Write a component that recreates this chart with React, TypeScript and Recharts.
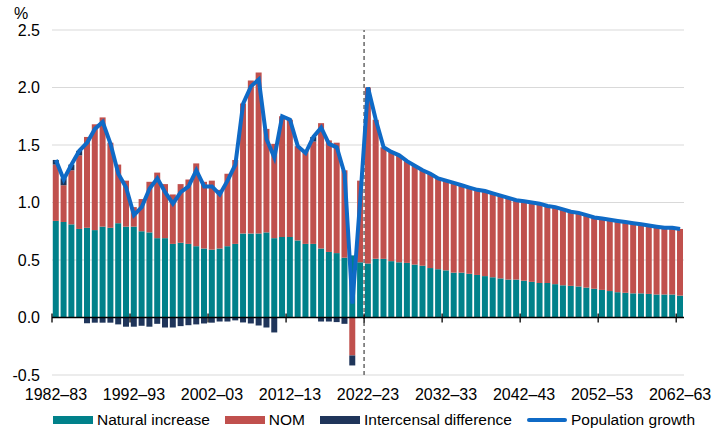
import {
  ComposedChart,
  Bar,
  Line,
  XAxis,
  YAxis,
  CartesianGrid,
  ReferenceLine,
} from "recharts";

const years = [
  "1982–83", "1983–84", "1984–85", "1985–86", "1986–87", "1987–88", "1988–89", "1989–90", "1990–91", "1991–92",
  "1992–93", "1993–94", "1994–95", "1995–96", "1996–97", "1997–98", "1998–99", "1999–00", "2000–01", "2001–02",
  "2002–03", "2003–04", "2004–05", "2005–06", "2006–07", "2007–08", "2008–09", "2009–10", "2010–11", "2011–12",
  "2012–13", "2013–14", "2014–15", "2015–16", "2016–17", "2017–18", "2018–19", "2019–20", "2020–21", "2021–22",
  "2022–23", "2023–24", "2024–25", "2025–26", "2026–27", "2027–28", "2028–29", "2029–30", "2030–31", "2031–32",
  "2032–33", "2033–34", "2034–35", "2035–36", "2036–37", "2037–38", "2038–39", "2039–40", "2040–41", "2041–42",
  "2042–43", "2043–44", "2044–45", "2045–46", "2046–47", "2047–48", "2048–49", "2049–50", "2050–51", "2051–52",
  "2052–53", "2053–54", "2054–55", "2055–56", "2056–57", "2057–58", "2058–59", "2059–60", "2060–61", "2061–62",
  "2062–63",
];

const tickYears = [
  "1982–83", "1992–93", "2002–03", "2012–13", "2022–23",
  "2032–33", "2042–43", "2052–53", "2062–63",
];

const yTicks = [-0.5, 0, 0.5, 1, 1.5, 2, 2.5];

// per cent of population
const naturalIncrease = [
  0.84, 0.83, 0.81, 0.77, 0.78, 0.76, 0.79, 0.78, 0.82, 0.79,
  0.79, 0.75, 0.74, 0.69, 0.69, 0.64, 0.65, 0.64, 0.62, 0.60,
  0.59, 0.60, 0.62, 0.64, 0.73, 0.73, 0.73, 0.74, 0.69, 0.70,
  0.70, 0.67, 0.64, 0.64, 0.60, 0.57, 0.56, 0.52, 0.54, 0.48,
  0.47, 0.51, 0.51, 0.49, 0.48, 0.475, 0.46, 0.45, 0.43, 0.42,
  0.41, 0.39, 0.39, 0.38, 0.37, 0.36, 0.35, 0.34, 0.33, 0.33,
  0.32, 0.31, 0.30, 0.30, 0.29, 0.28, 0.275, 0.27, 0.26, 0.25,
  0.24, 0.23, 0.22, 0.215, 0.21, 0.21, 0.205, 0.20, 0.20, 0.20,
  0.19,
];

const nom = [
  0.49, 0.32, 0.47, 0.64, 0.79, 0.92, 0.95, 0.74, 0.51, 0.40,
  0.17, 0.28, 0.44, 0.57, 0.47, 0.43, 0.51, 0.56, 0.72, 0.58,
  0.60, 0.51, 0.63, 0.73, 1.13, 1.33, 1.40, 0.90, 0.82, 1.05,
  1.02, 0.82, 0.81, 0.89, 1.09, 0.97, 0.96, 0.76, -0.33, 0.71,
  1.53, 1.21, 0.97, 0.95, 0.93, 0.885, 0.86, 0.83, 0.82, 0.79,
  0.78, 0.78, 0.76, 0.75, 0.74, 0.74, 0.73, 0.72, 0.71, 0.69,
  0.69, 0.69, 0.69, 0.67, 0.67, 0.66, 0.645, 0.64, 0.63, 0.62,
  0.62, 0.62, 0.62, 0.615, 0.61, 0.60, 0.595, 0.59, 0.58, 0.58,
  0.58,
];

const intercensal = [
  0.04, 0.06, 0.05, 0.04, -0.05, -0.045, -0.045, -0.045, -0.06, -0.08,
  -0.08, -0.072, -0.08, -0.055, -0.087, -0.087, -0.075, -0.067, -0.06, -0.052,
  -0.045, -0.035, -0.035, -0.025, -0.043, -0.052, -0.07, -0.087, -0.13, 0,
  0, 0, 0, 0.04, -0.035, -0.035, -0.04, -0.055, -0.087, 0,
];

const growth = [
  1.37, 1.20, 1.33, 1.45, 1.52, 1.64, 1.70, 1.51, 1.25, 1.13,
  0.89, 0.96, 1.12, 1.21, 1.09, 0.99, 1.09, 1.14, 1.28, 1.14,
  1.14, 1.07, 1.19, 1.33, 1.86, 2.01, 2.07, 1.55, 1.39, 1.75,
  1.72, 1.49, 1.43, 1.57, 1.65, 1.51, 1.48, 1.25, 0.12, 1.02,
  2.00, 1.72, 1.48, 1.44, 1.41, 1.36, 1.32, 1.28, 1.25, 1.21,
  1.19, 1.17, 1.15, 1.13, 1.11, 1.10, 1.08, 1.06, 1.04, 1.02,
  1.01, 1.00, 0.99, 0.97, 0.96, 0.94, 0.92, 0.91, 0.89, 0.87,
  0.86, 0.85, 0.84, 0.83, 0.82, 0.81, 0.80, 0.79, 0.78, 0.78,
  0.77,
];

const data = years.map((year, i) => ({
  year,
  natural: naturalIncrease[i],
  nom: nom[i],
  intercensal: i < intercensal.length ? intercensal[i] : null,
  growth: growth[i],
}));

const FONT = '"Liberation Sans", Arial, sans-serif';
const TEAL = "#00818A";
const RED = "#C0504D";
const NAVY = "#1F355A";
const BLUE = "#0F6AC6";

// zero line with tick marks on the category boundaries
function ZeroAxis(props: any) {
  const { x1, x2, y1 } = props;
  const step = (x2 - x1) / years.length;
  return (
    <g>
      <line x1={x1} x2={x2} y1={y1} y2={y1} stroke="#000" strokeWidth={1.5} />
      {tickYears.map((t) => {
        const x = x1 + years.indexOf(t) * step;
        return <line key={t} x1={x} x2={x} y1={y1 - 4} y2={y1 + 5} stroke="#000" strokeWidth={1.3} />;
      })}
    </g>
  );
}

const legendItems = [
  { label: "Natural increase", color: TEAL, kind: "bar" },
  { label: "NOM", color: RED, kind: "bar" },
  { label: "Intercensal difference", color: NAVY, kind: "bar" },
  { label: "Population growth", color: BLUE, kind: "line" },
];

export default function App() {
  return (
    <div style={{ position: "absolute", left: 0, top: 0, width: 727, height: 442, fontFamily: FONT, background: "#fff" }}>
      <div style={{ position: "absolute", left: 14, top: 6, fontSize: 16, lineHeight: "16px", color: "#000" }}>%</div>
      <ComposedChart
        width={727}
        height={442}
        data={data}
        stackOffset="sign"
        barCategoryGap="10%"
        margin={{ top: 30, right: 43, left: 0, bottom: 37 }}
      >
        <CartesianGrid vertical={false} stroke="#d9d9d9" strokeWidth={1.2} />
        <XAxis
          dataKey="year"
          ticks={tickYears}
          interval={0}
          tickLine={false}
          axisLine={false}
          tickSize={0}
          tickMargin={14}
          height={30}
          tick={{ fill: "#000", fontSize: 16, fontFamily: FONT }}
        />
        <YAxis
          type="number"
          domain={[-0.5, 2.5]}
          ticks={yTicks}
          width={52}
          tickLine={false}
          axisLine={false}
          tickSize={0}
          tickMargin={12}
          tickFormatter={(v: number) => v.toFixed(1)}
          tick={{ fill: "#000", fontSize: 16, fontFamily: FONT }}
        />
        <Bar dataKey="natural" stackId="a" fill={TEAL} isAnimationActive={false} />
        <Bar dataKey="nom" stackId="a" fill={RED} isAnimationActive={false} />
        <Bar dataKey="intercensal" stackId="a" fill={NAVY} isAnimationActive={false} />
        <ReferenceLine x="2022–23" position="start" stroke="#808080" strokeWidth={1.8} strokeDasharray="4 3" />
        <ReferenceLine y={0} shape={ZeroAxis} />
        <Line
          type="linear"
          dataKey="growth"
          stroke={BLUE}
          strokeWidth={4}
          dot={false}
          activeDot={false}
          isAnimationActive={false}
        />
      </ComposedChart>
      <div
        style={{
          position: "absolute",
          left: 53,
          top: 411,
          display: "flex",
          alignItems: "center",
          fontSize: 15.5,
          color: "#000",
          whiteSpace: "nowrap",
        }}
      >
        {legendItems.map((item) => (
          <div key={item.label} style={{ display: "flex", alignItems: "center", marginRight: 15 }}>
            <span
              style={{
                display: "inline-block",
                width: 40,
                height: item.kind === "bar" ? 8 : 3.5,
                background: item.color,
                borderRadius: item.kind === "line" ? 2 : 0,
                marginRight: 4,
              }}
            />
            <span>{item.label}</span>
          </div>
        ))}
      </div>
    </div>
  );
}
